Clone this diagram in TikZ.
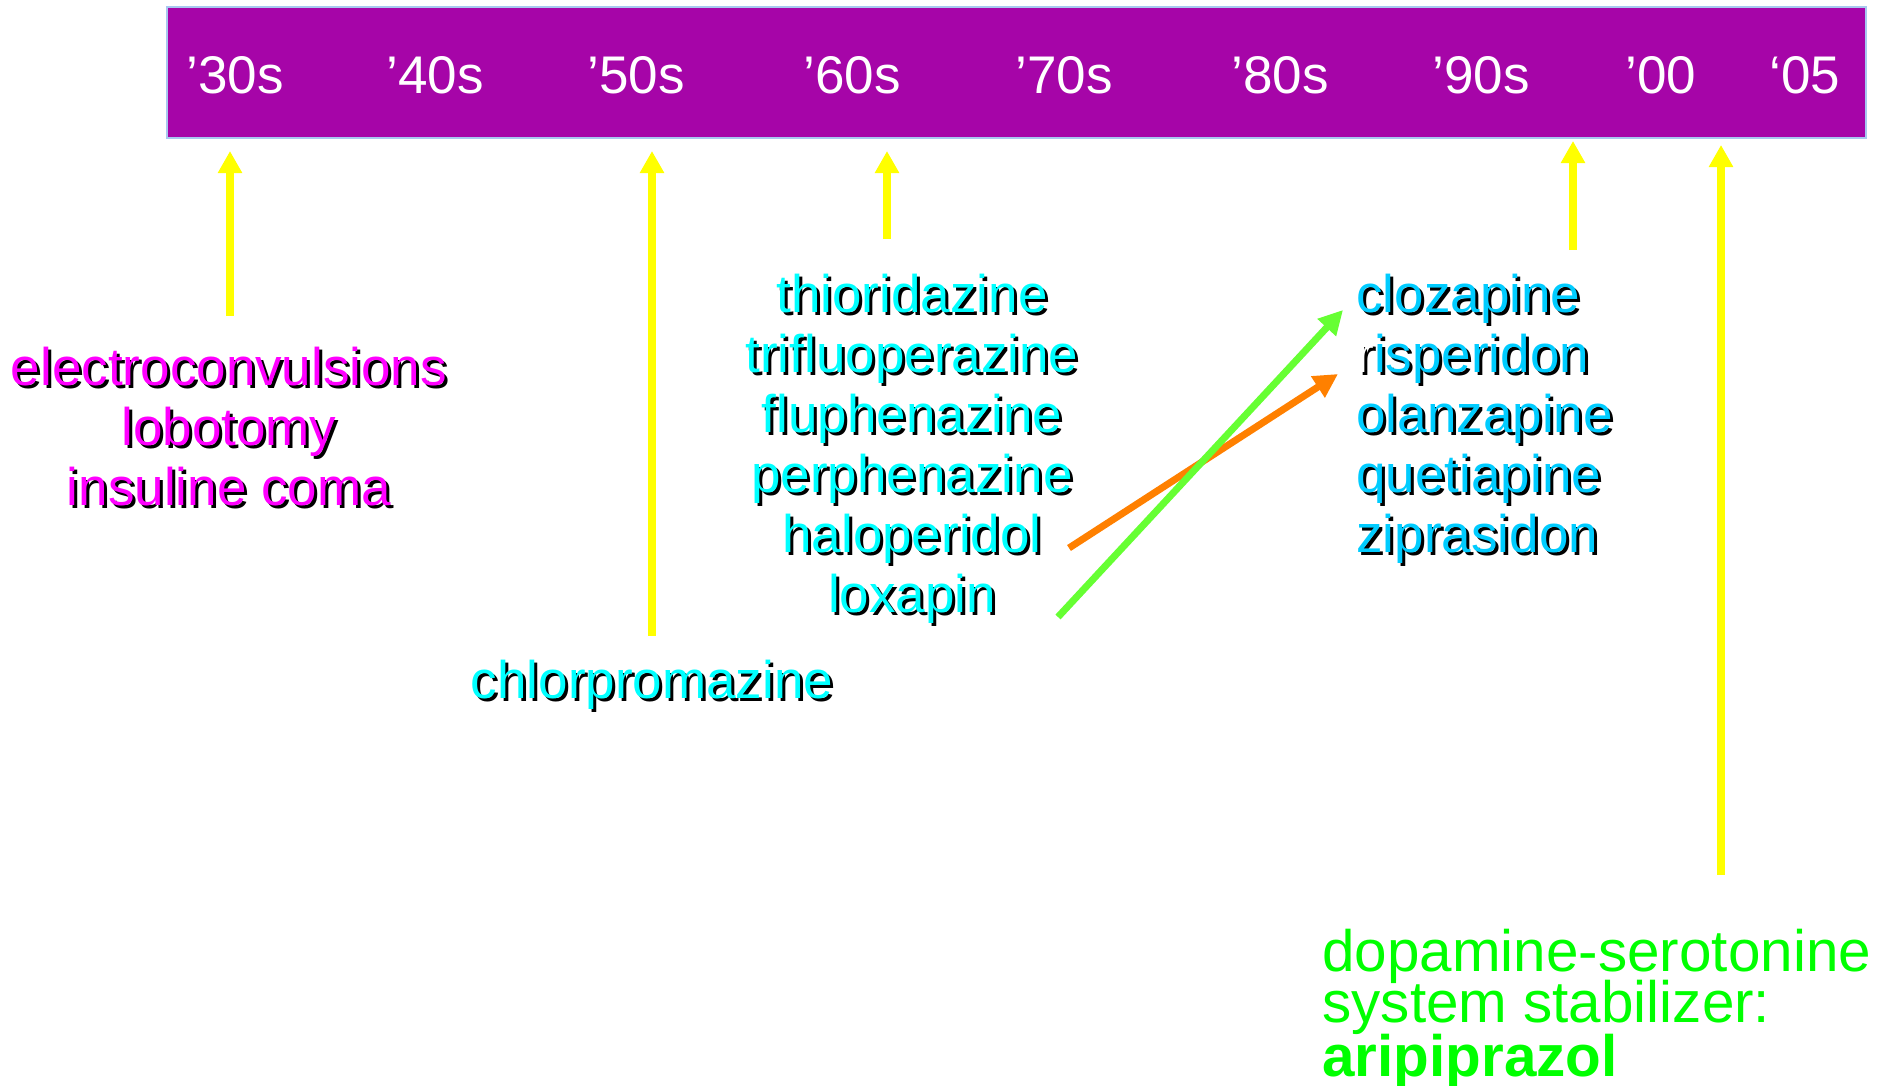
\documentclass[tikz,border=0pt]{standalone}
\usepackage{fontspec}
\setmainfont{Liberation Sans}
\usetikzlibrary{arrows.meta}
\definecolor{barfill}{HTML}{A605A8}
\definecolor{barline}{HTML}{A8C8F0}
\definecolor{tlpink}{HTML}{FF00FF}
\definecolor{tlcyan}{HTML}{00FFFF}
\definecolor{tlsky}{HTML}{00CCFF}
\definecolor{tlyellow}{HTML}{FFFF00}
\definecolor{tlorange}{HTML}{FF8000}
\definecolor{tllime}{HTML}{66FF33}
\definecolor{tlgreen}{HTML}{00FF00}
\newcommand\shtext[1]{\leavevmode\rlap{\kern1.5pt\raisebox{-1.5pt}{\textcolor{black}{#1}}}#1}
\begin{document}
\begin{tikzpicture}[x=0.5pt,y=-0.5pt,
  yearlbl/.style={text=white,font=\fontsize{26.5}{30}\selectfont,anchor=base,inner sep=0pt},
  drug/.style={font=\fontsize{26.5}{30}\selectfont,anchor=base,inner sep=0pt},
  drugw/.style={drug,anchor=base west},
  greentxt/.style={text=tlgreen,font=\fontsize{29.2}{26}\selectfont,anchor=base west,inner sep=0pt},
  yarrow/.style={draw=tlyellow,line width=4.2pt,-{Triangle[width=11.5pt,length=11pt]}},
  carrow/.style={line width=3.5pt,-{Triangle[width=12pt,length=12pt]}}]
\useasboundingbox (0,0) rectangle (1890,1086);
\fill[white] (0,0) rectangle (1890,1086);
% bar
\node[draw=barline,fill=barfill,line width=1.2pt,minimum width=849.5pt,minimum height=65.5pt,inner sep=0pt,anchor=north west] (bar) at (166,6) {};
\node[yearlbl] (y30) at (235,94) {’30s};
\node[yearlbl] (y40) at (435,94) {’40s};
\node[yearlbl] (y50) at (636,94) {’50s};
\node[yearlbl] (y60) at (852,94) {’60s};
\node[yearlbl] (y70) at (1064,94) {’70s};
\node[yearlbl] (y80) at (1280,94) {’80s};
\node[yearlbl] (y90) at (1481,94) {’90s};
\node[yearlbl] (y00) at (1661,94) {’00};
\node[yearlbl] (y05) at (1805,94) {‘05};
% left block
\node[drug,text=tlpink] (e1) at (229,385) {\shtext{electroconvulsions}};
\node[drug,text=tlpink] (e2) at (229,445) {\shtext{lobotomy}};
\node[drug,text=tlpink] (e3) at (229,505) {\shtext{insuline coma}};
% chlorpromazine
\node[drug,text=tlcyan] (cp) at (652,698) {\shtext{chlorpromazine}};
% middle block
\node[drug,text=tlcyan] (m1) at (912,312) {\shtext{thioridazine}};
\node[drug,text=tlcyan] (m2) at (912,372) {\shtext{trifluoperazine}};
\node[drug,text=tlcyan] (m3) at (912,432) {\shtext{fluphenazine}};
\node[drug,text=tlcyan] (m4) at (912,492) {\shtext{perphenazine}};
\node[drug,text=tlcyan] (m5) at (912,552) {\shtext{haloperidol}};
\node[drug,text=tlcyan] (m6) at (912,612) {\shtext{loxapin}};
% right block
\node[drugw,text=tlsky] (r1) at (1356,312) {\shtext{clozapine}};
\node[drugw,text=tlsky] (r2) at (1356,372) {\leavevmode\rlap{\kern1.5pt\raisebox{-1.5pt}{\textcolor{black}{risperidon}}}\textcolor{white}{r}isperidon};
\node[drugw,text=tlsky] (r3) at (1356,432) {\shtext{olanzapine}};
\node[drugw,text=tlsky] (r4) at (1356,492) {\shtext{quetiapine}};
\node[drugw,text=tlsky] (r5) at (1356,552) {\shtext{ziprasidon}};
% green block
\node[greentxt] (g1) at (1322,971) {dopamine-serotonine};
\node[greentxt] (g2) at (1322,1022) {system stabilizer:};
\node[greentxt,font=\fontsize{29.2}{26}\selectfont\bfseries] (g3) at (1322,1076) {aripiprazol};
% arrow coordinates
\coordinate (a1s) at (230,316); \coordinate (a1e) at (230,151);
\coordinate (a2s) at (652,636); \coordinate (a2e) at (652,151);
\coordinate (a3s) at (887,239); \coordinate (a3e) at (887,151);
\coordinate (a4s) at (1573,250); \coordinate (a4e) at (1573,141);
\coordinate (a5s) at (1721,875); \coordinate (a5e) at (1721,145);
\draw[yarrow] (a1s) -- (a1e);
\draw[yarrow] (a2s) -- (a2e);
\draw[yarrow] (a3s) -- (a3e);
\draw[yarrow] (a4s) -- (a4e);
\draw[yarrow] (a5s) -- (a5e);
\coordinate (os) at (1069,548); \coordinate (oe) at (1338,374);
\coordinate (ls) at (1058,617); \coordinate (le) at (1343,310);
\draw[carrow,draw=tlorange,fill=tlorange] (os) -- (oe);
\draw[carrow,draw=tllime,fill=tllime] (ls) -- (le);
\end{tikzpicture}
\end{document}
